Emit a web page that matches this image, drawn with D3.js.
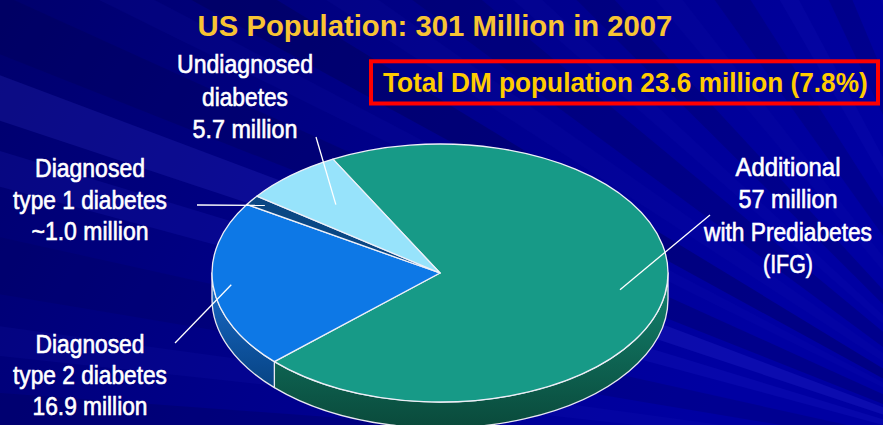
<!DOCTYPE html>
<html>
<head>
<meta charset="utf-8">
<script src="https://cdn.jsdelivr.net/npm/d3@7"></script>
<style>
  html, body { margin: 0; padding: 0; background: #00008a; }
  svg { display: block; }
</style>
</head>
<body>
<svg id="chart" width="883" height="425"></svg>
<script>
// ---- data ----
const categories = ["Prediabetes (IFG)", "Diagnosed type 2 diabetes", "Diagnosed type 1 diabetes", "Undiagnosed diabetes"];
const values = [57, 16.9, 1.0, 5.7];            // millions
const labelLines = [
  ["Additional", "57 million", "with Prediabetes", "(IFG)"],
  ["Diagnosed", "type 2 diabetes", "16.9 million"],
  ["Diagnosed", "type 1 diabetes", "~1.0 million"],
  ["Undiagnosed", "diabetes", "5.7 million"]
];
const titleText = "US Population: 301 Million in 2007";
const noteText = "Total DM population 23.6 million (7.8%)";

// ---- styling ----
const sliceColors = ["#179a87", "#0d78e6", "#0a4784", "#97e3fb"];
const sideTop = ["#138470", "#1a6ccc", "#0a4080", "#7fc8e0"];
const sideBottom = ["#0a4a3b", "#00356a", "#062a55", "#4a90b0"];

// label layout: centre x, first baseline, line step, fitted widths, leader anchor
const labelLayout = [
  { x: 788, y: 176, step: 32.3, widths: [105, 99, 168, 50], leader: [710, 215], r: 0.80 },
  { x: 90,  y: 353, step: 31,   widths: [109, 154, 115],    leader: [175, 343], r: 0.92 },
  { x: 90,  y: 177, step: 31.5, widths: [110, 154, 117],    leader: [197, 205], r: 0.93 },
  { x: 245, y: 73,  step: 32.5, widths: [136, 86, 105],     leader: [316, 137], r: 0.70 }
];

const W = 883, H = 425;
const svg = d3.select("#chart");
const defs = svg.append("defs");

// ---- background ----
const bg = defs.append("linearGradient").attr("id", "bg")
  .attr("x1", 0).attr("y1", 0).attr("x2", 1).attr("y2", 0.3);
bg.append("stop").attr("offset", 0).attr("stop-color", "#00006c");
bg.append("stop").attr("offset", 0.5).attr("stop-color", "#00008a");
bg.append("stop").attr("offset", 1).attr("stop-color", "#0000a2");
svg.append("rect").attr("width", W).attr("height", H).attr("fill", "url(#bg)");

// light rays fanning out from a point beyond the right edge
const origin = [1050, 470];
const rays = [
  [183, 1.2, "#000050", 0.25], [187, 0.8, "#2a2ad0", 0.10], [191, 1.5, "#000055", 0.22],
  [196, 0.9, "#3030e0", 0.14], [199.5, 1.1, "#4848f0", 0.16], [203, 1.4, "#000050", 0.28],
  [207, 0.7, "#2020c0", 0.10], [210, 1.3, "#000048", 0.32], [214, 1.0, "#1a1ab8", 0.10],
  [218, 1.6, "#000050", 0.25], [222, 0.8, "#2626c8", 0.08], [226, 1.2, "#00004a", 0.22],
  [231, 1.0, "#2020c4", 0.08], [236, 1.5, "#000050", 0.2], [241, 0.9, "#2a2ad0", 0.1],
  [246, 1.2, "#00004c", 0.2], [251, 0.8, "#2a2ad0", 0.1]
];
const rayLen = 1400;
svg.append("g").selectAll("path").data(rays).join("path")
  .attr("d", d => {
    const a0 = (d[0] - d[1]) * Math.PI / 180, a1 = (d[0] + d[1]) * Math.PI / 180;
    return `M${origin[0]},${origin[1]}L${origin[0] + rayLen * Math.cos(a0)},${origin[1] + rayLen * Math.sin(a0)}` +
           `L${origin[0] + rayLen * Math.cos(a1)},${origin[1] + rayLen * Math.sin(a1)}Z`;
  })
  .attr("fill", d => d[2]).attr("opacity", d => d[3]);

// ---- 3D pie ----
const cx = 440, cy = 273, rx = 228, ry = 129, depth = 26;
const startAngle = -28 * Math.PI / 180;
const pie = d3.pie().sort(null).value(d => d)
  .startAngle(startAngle).endAngle(startAngle + 2 * Math.PI);
const arcs = pie(values);

// scales mapping unit-circle coordinates onto the tilted ellipse
const sx = d3.scaleLinear().domain([-1, 1]).range([cx - rx, cx + rx]);
const sy = d3.scaleLinear().domain([-1, 1]).range([cy - ry, cy + ry]);
const P = (a, r = 1, dz = 0) => [sx(r * Math.sin(a)), sy(-r * Math.cos(a)) + dz];

function topPath(d) {
  const p0 = P(d.startAngle), p1 = P(d.endAngle);
  const large = d.endAngle - d.startAngle > Math.PI ? 1 : 0;
  return `M${cx},${cy}L${p0[0]},${p0[1]}A${rx},${ry} 0 ${large} 1 ${p1[0]},${p1[1]}Z`;
}
function sidePath(d) {
  const s0 = Math.max(d.startAngle, Math.PI / 2), s1 = Math.min(d.endAngle, 3 * Math.PI / 2);
  if (s1 <= s0) return null;
  const a = P(s0), b = P(s1), c = P(s1, 1, depth), e = P(s0, 1, depth);
  const large = s1 - s0 > Math.PI ? 1 : 0;
  return `M${a[0]},${a[1]}A${rx},${ry} 0 ${large} 1 ${b[0]},${b[1]}L${c[0]},${c[1]}` +
         `A${rx},${ry} 0 ${large} 0 ${e[0]},${e[1]}Z`;
}

arcs.forEach((d, i) => {
  const g = defs.append("linearGradient").attr("id", "side" + i)
    .attr("gradientUnits", "userSpaceOnUse")
    .attr("x1", 0).attr("y1", cy).attr("x2", 0).attr("y2", cy + ry + depth);
  g.append("stop").attr("offset", 0).attr("stop-color", sideTop[i]);
  g.append("stop").attr("offset", 1).attr("stop-color", sideBottom[i]);
});

const pieG = svg.append("g");
pieG.selectAll("path.side").data(arcs.filter(d => sidePath(d))).join("path")
  .attr("class", "side")
  .attr("d", sidePath)
  .attr("fill", d => `url(#side${d.index})`)
  .attr("stroke", "#e8e8f0").attr("stroke-width", 1.3).attr("stroke-linejoin", "round");

pieG.selectAll("path.top").data(arcs).join("path")
  .attr("class", "top")
  .attr("d", topPath)
  .attr("fill", (d, i) => sliceColors[i])
  .attr("stroke", "#eef0f8").attr("stroke-width", 1.3).attr("stroke-linejoin", "round");

// ---- leader lines ----
svg.append("g").selectAll("line").data(arcs).join("line")
  .attr("x1", (d, i) => labelLayout[i].leader[0])
  .attr("y1", (d, i) => labelLayout[i].leader[1])
  .attr("x2", (d, i) => P((d.startAngle + d.endAngle) / 2, labelLayout[i].r)[0])
  .attr("y2", (d, i) => P((d.startAngle + d.endAngle) / 2, labelLayout[i].r)[1])
  .attr("stroke", "#ffffff").attr("stroke-width", 1.3);

// Draws a line of text condensed horizontally to a fitted width.
function condensedText(parent, x, y, width, txt, anchor) {
  const g = parent.append("g");
  const t = g.append("text").attr("x", 0).attr("y", 0).attr("text-anchor", anchor).text(txt);
  const natural = t.node().getComputedTextLength();
  g.attr("transform", `translate(${x},${y}) scale(${width / natural},1)`);
  return t;
}

// ---- labels ----
const labG = svg.append("g")
  .attr("font-family", "'Liberation Sans Narrow', 'Arial Narrow', 'Liberation Sans', Arial, sans-serif")
  .attr("font-size", 25).attr("fill", "#ffffff")
  .attr("stroke", "#ffffff").attr("stroke-width", 0.6);
labelLines.forEach((lines, i) => {
  const L = labelLayout[i];
  lines.forEach((t, j) => condensedText(labG, L.x, L.y + j * L.step, L.widths[j], t, "middle"));
});

// ---- title and note ----
const titleG = svg.append("g")
  .attr("font-family", "'Liberation Sans', Arial, sans-serif")
  .attr("font-weight", "bold").attr("font-size", 29).attr("fill", "#f8c433");
condensedText(titleG, 435, 36, 475, titleText, "middle");

svg.append("rect")
  .attr("x", 371).attr("y", 61.3).attr("width", 507).attr("height", 42.2)
  .attr("fill", "none").attr("stroke", "#ff0000").attr("stroke-width", 4);
const noteG = svg.append("g")
  .attr("font-family", "'Liberation Sans', Arial, sans-serif")
  .attr("font-weight", "bold").attr("font-size", 27).attr("fill", "#ffcc00");
condensedText(noteG, 383, 92, 485, noteText, "start");
</script>
</body>
</html>
